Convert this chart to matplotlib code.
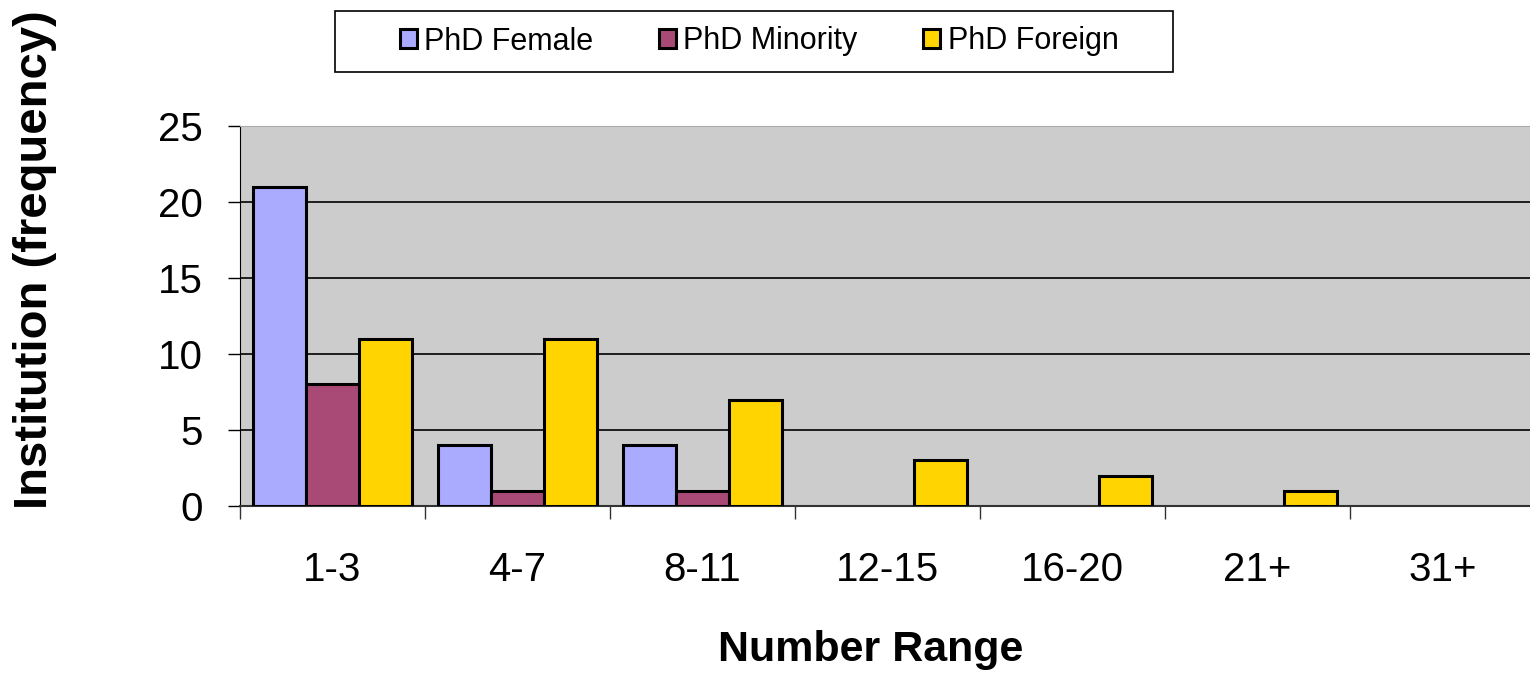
import numpy as np
import matplotlib.pyplot as plt
from matplotlib.patches import Rectangle

plt.rcParams['font.family'] = ['Liberation Sans', 'DejaVu Sans']

ranges = ["1-3", "4-7", "8-11", "12-15", "16-20", "21+", "31+"]
phd_female = [21, 4, 4, 0, 0, 0, 0]
phd_minority = [8, 1, 1, 0, 0, 0, 0]
phd_foreign = [11, 11, 7, 3, 2, 1, 0]

series = [("PhD Female", phd_female, "#AAAAFF"),
          ("PhD Minority", phd_minority, "#A94A76"),
          ("PhD Foreign", phd_foreign, "#FFD400")]

W, H = 1530, 675
fig = plt.figure(figsize=(W / 100, H / 100), dpi=100)
ax = fig.add_axes([240 / W, 1 - 506 / H, 1295 / W, 380 / H])
ax.set_facecolor("#CCCCCC")

x = np.arange(len(ranges))
bw = 0.2865
offsets = [-bw, 0, bw]
for (name, vals, col), off in zip(series, offsets):
    vals = np.array(vals)
    lw = [2.2 if v > 0 else 0 for v in vals]
    ax.bar(x + off, vals, width=bw, color=col, edgecolor="black",
           linewidth=lw, label=name, zorder=3)

ax.set_xlim(-0.5, len(ranges) - 0.5)
ax.set_ylim(0, 25)
ax.set_yticks(range(0, 26, 5))
ax.yaxis.grid(True, color="black", linewidth=1.2, zorder=0)
ax.set_axisbelow(True)

ax.set_xticks(x)
ax.set_xticklabels(ranges)
ax.set_xticks(np.arange(len(ranges)) - 0.5, minor=True)
ax.tick_params(axis="x", which="major", length=0, pad=32.5, labelsize=29)
ax.tick_params(axis="x", which="minor", length=9, width=1, color="#333333")
ax.tick_params(axis="y", length=9, width=1, pad=18, labelsize=29)

ax.spines["right"].set_visible(False)
ax.spines["top"].set_color("#AAAAAA")
ax.spines["left"].set_color("black")
ax.spines["bottom"].set_color("#333333")
ax.spines["bottom"].set_linewidth(1.5)

ax.set_xlabel("Number Range", fontsize=31, fontweight="bold")
ax.xaxis.set_label_coords((871 - 240) / 1295, -(630 - 506) / 380)
ax.set_ylabel("Institution (frequency)", fontsize=34, fontweight="bold")
ax.yaxis.set_label_coords((57 - 240) / 1295, 0.5 + 56 / 380)

fig.patches.append(Rectangle((335 / W, 1 - 72 / H), 838 / W, 61 / H,
                             transform=fig.transFigure, facecolor="white",
                             edgecolor="black", linewidth=1.2))
fig.legend(loc="center", bbox_to_anchor=(759 / W, 1 - 41.5 / H), ncol=3,
           frameon=False, fontsize=22, handlelength=0.56, handleheight=0.56,
           handletextpad=0.24, columnspacing=2.15)

fig.savefig("out.png", dpi=100)
